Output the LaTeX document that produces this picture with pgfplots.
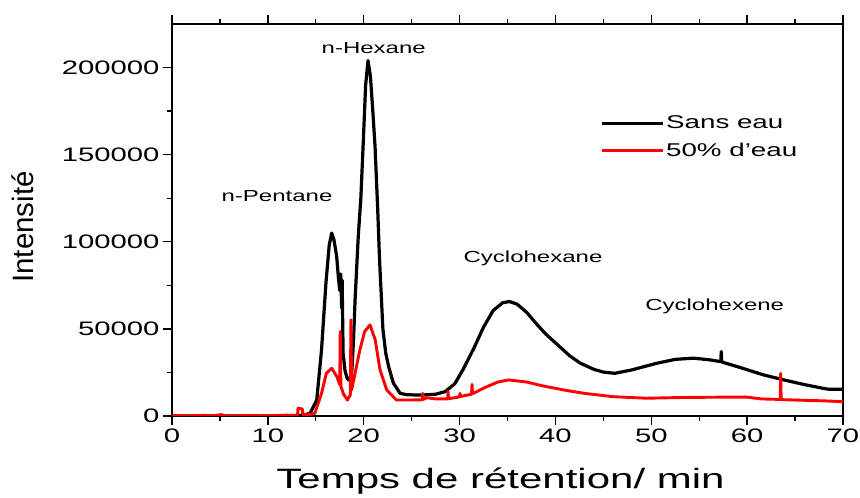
\documentclass[border=0pt]{standalone}
\usepackage{fontspec}
\setmainfont{Liberation Sans}[FakeStretch=1.5]
\newfontfamily\plainsans{Liberation Sans}
\usepackage{pgfplots}
\pgfplotsset{compat=1.18}

\pgfplotstableread{
x y
0 0
5 0
10 0
12 0
13 200
13.8 700
14.4 1500
15.1 9200
15.6 38000
16.06 76300
16.4 98000
16.66 105000
16.9 101000
17.18 91600
17.35 80000
17.5 72000
17.6 81500
17.7 62000
17.75 78000
17.85 36000
18.05 26000
18.25 22000
18.4 20700
18.55 21500
18.75 24500
18.95 45000
19.1 66700
19.43 103000
19.7 125000
19.96 158000
20.2 190000
20.45 204000
20.7 195000
20.95 175000
21.18 155000
21.45 120000
21.65 90000
22.0 50000
22.3 36000
22.6 28300
23.1 18800
23.8 13000
24.5 12200
26.0 12000
27.5 12500
28.5 14000
29.5 18500
30.4 27000
31.5 39000
32.5 51000
33.5 60500
34.5 65000
35.2 65700
36.0 64200
37.0 59500
38.0 53000
39.0 47000
40.1 41500
41.5 34500
42.6 30300
44.0 26800
45.0 25200
46.2 24500
48.0 26500
50.6 30300
52.5 32500
54.4 33200
56.0 32300
57.25 31200
57.3 37000
57.35 31000
59.0 28300
61.7 23600
64.0 20500
66.0 18000
68.0 15800
68.6 15300
70.0 15300
}\sanseau

\pgfplotstableread{
x y
0 0
1.0 300
1.5 0
3.5 400
4.0 0
5.2 800
5.5 0
9.0 300
9.5 0
12.0 500
12.5 300
13.1 600
13.15 4500
13.6 4000
13.65 800
14.3 800
14.9 1500
15.6 13000
16.1 24500
16.66 27400
17.2 22600
17.5 18000
17.55 48500
17.62 17000
17.9 12500
18.3 9200
18.6 12000
18.67 55200
18.74 15000
19.1 24500
19.6 38000
20.1 48500
20.66 52300
21.2 43700
21.7 26500
22.4 15000
23.4 9200
25.0 9200
26.1 9300
26.15 13000
26.2 9500
26.6 10500
27.5 9800
28.75 9800
28.8 14000
28.85 9900
30.0 11000
30.05 13000
30.1 11200
31.25 12500
31.3 18200
31.35 12700
32.5 16000
34.0 19500
35.1 20700
37.0 19500
38.5 17500
40.8 15000
43.0 13000
46.0 11100
49.5 10200
53.0 10600
57.0 10800
60.0 10800
61.5 9800
63.45 9500
63.5 24500
63.55 9400
66.0 9000
68.0 8700
70.0 8200
}\eau

\begin{document}
\begin{tikzpicture}
\path[use as bounding box] (0,0) rectangle (860pt,498pt);
\begin{axis}[
  at={(172pt,82pt)}, anchor=south west,
  scale only axis, width=671pt, height=392pt,
  xmin=0, xmax=70, ymin=0, ymax=225000,
  xtick={0,10,...,70}, ytick={0,50000,...,200000},
  minor x tick num=1, minor y tick num=1,
  tick align=outside, xtick pos=both, ytick pos=left,
  major tick length=9pt, minor tick length=5pt,
  scaled y ticks=false,
  axis line style={line width=1.7pt},
  every tick/.style={line width=1.4pt, black},
  /pgf/number format/fixed,
  /pgf/number format/precision=0,
  /pgf/number format/assume math mode=true,
  /pgf/number format/1000 sep={},
  ticklabel style={font=\fontsize{19.5}{22}\selectfont},
  legend style={draw=none, fill=none, at={(0.633,0.776)}, anchor=north west,
    font=\fontsize{18.5}{22}\selectfont, row sep=9pt},
  legend cell align=left,
  legend image code/.code={\draw[#1] (0pt,0pt) -- (61pt,0pt);},
]
\addplot[black, line width=3.2pt, line join=round] table {\sanseau};
\addlegendentry{Sans eau}
\addplot[red, line width=2.9pt, line join=round] table {\eau};
\addlegendentry{50\% d'eau}
\end{axis}
\begin{scope}[font=\fontsize{16}{18}\selectfont]
\node[anchor=base] at (373.7pt,444pt) {n-Hexane};
\node[anchor=base] at (277pt,296.3pt) {n-Pentane};
\node[anchor=base] at (533pt,235.3pt) {Cyclohexane};
\node[anchor=base] at (714.7pt,187.3pt) {Cyclohexene};
\end{scope}
\node[rotate=90, font=\plainsans\fontsize{29.5}{32}\selectfont] at (23pt,271pt) {Intensité};
\node[anchor=base, font=\fontsize{28}{32}\selectfont] at (500.5pt,9.7pt) {Temps de rétention/ min};
\end{tikzpicture}
\end{document}
